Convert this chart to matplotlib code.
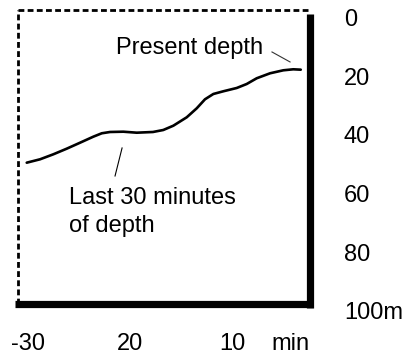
import matplotlib.pyplot as plt

plt.rcParams['font.family'] = ['Liberation Sans', 'DejaVu Sans']

# depth profile over the last 30 minutes (minutes, metres)
minutes = [-30.13, -28.82, -27.52, -26.21, -24.90, -23.60, -22.77, -21.96,
           -20.66, -19.34, -17.75, -16.74, -15.75, -14.44, -13.46, -12.65,
           -11.83, -10.85, -9.54, -8.56, -7.58, -6.27, -4.97, -3.99, -3.26]
depth = [48.62, 47.46, 45.76, 43.85, 41.81, 39.76, 38.60, 38.16,
         38.06, 38.40, 38.16, 37.48, 36.01, 33.15, 30.09, 27.02,
         25.21, 24.29, 23.17, 21.81, 19.86, 18.16, 17.14, 16.80, 16.93]

depth_ticks = [0, 20, 40, 60, 80, 100]
depth_labels = ['0', '20', '40', '60', '80', '100m']
time_ticks = [-30, -20, -10]
time_labels = ['-30', '20', '10']


def plot_depth():
    fig = plt.figure(figsize=(4.06, 3.54), dpi=100)
    ax = fig.add_axes([0, 0, 1, 1])
    ax.set_xlim(-32.75, 7.06)
    ax.set_ylim(113.8, -6.81)
    ax.axis('off')

    # frame: dashed left/top, heavy right/bottom
    left, right, top, bottom = -31.03, -2.40, -3.41, 96.9
    ax.plot([left, left], [bottom, top], color='black', lw=2.0,
            linestyle=(0, (2.1, 1.2)), solid_capstyle='butt')
    ax.plot([left, right], [top, top], color='black', lw=2.0,
            linestyle=(0, (2.1, 1.2)), solid_capstyle='butt')
    ax.plot([right, right], [-1.9, bottom + 1.2], color='black', lw=5.2,
            solid_capstyle='butt')
    ax.plot([-31.25, right + 0.35], [bottom, bottom], color='black', lw=5.2,
            solid_capstyle='butt')

    # depth curve
    ax.plot(minutes, depth, color='black', lw=1.9, solid_joinstyle='round',
            solid_capstyle='round')

    # annotations
    ax.text(-21.37, 11.58, 'Present depth', fontsize=17, va='baseline')
    ax.plot([-6.08, -4.31], [10.9, 14.3], color='#333333', lw=0.8)
    ax.text(-25.98, 62.7, 'Last 30 minutes', fontsize=17, va='baseline')
    ax.text(-25.98, 72.2, 'of depth', fontsize=17, va='baseline')
    ax.plot([-20.78, -21.47], [43.6, 53.15], color='black', lw=0.8)

    # tick labels
    for d, lab in zip(depth_ticks, depth_labels):
        ax.text(0.98, d, lab, fontsize=17, va='center', ha='left')
    for t, lab in zip(time_ticks, time_labels):
        ax.text(t, 112.5, lab, fontsize=17, va='baseline', ha='center')
    ax.text(-4.3, 112.5, 'min', fontsize=17, va='baseline', ha='center')

    fig.savefig('out.png', dpi=100)
    plt.close(fig)


if __name__ == '__main__':
    plot_depth()
